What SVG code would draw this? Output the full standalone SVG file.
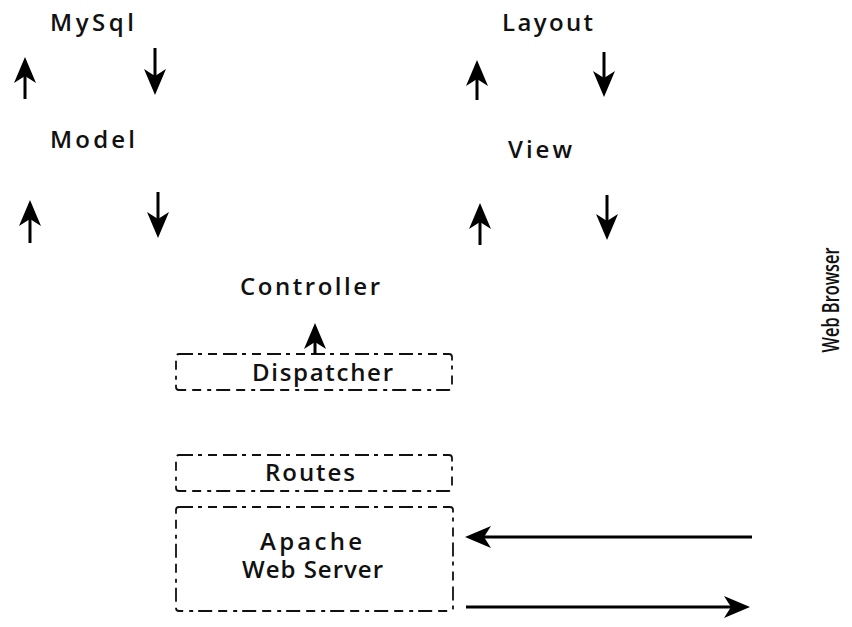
<svg xmlns="http://www.w3.org/2000/svg" width="852" height="627" viewBox="0 0 852 627">
<style>
  .lbl { font-family: "Open Sans", "Liberation Sans", sans-serif; font-size: 24px; font-weight: 600; fill: #111; }
  .box { fill: none; stroke: #111; stroke-width: 1.8; stroke-dasharray: 14 5 4 6 9 6; }
  .arr { fill: none; stroke: #000; stroke-width: 3; marker-end: url(#head); }
</style>
<defs>
  <marker id="head" markerUnits="userSpaceOnUse" markerWidth="28" markerHeight="26" viewBox="0 -13 28 26" refX="7" refY="0" orient="auto">
    <path d="M26,0 L0,-11 L7,0 L0,11 Z" fill="#000"/>
  </marker>
</defs>
<rect width="852" height="627" fill="#fff"/>

<g id="mysql"><text class="lbl" x="50" y="31" textLength="84" lengthAdjust="spacing">MySql</text></g>
<g id="layout"><text class="lbl" x="502" y="31" textLength="91" lengthAdjust="spacing">Layout</text></g>
<g id="model"><text class="lbl" x="50" y="148" textLength="85" lengthAdjust="spacing">Model</text></g>
<g id="view"><text class="lbl" x="508" y="158" textLength="64" lengthAdjust="spacing">View</text></g>
<g id="controller"><text class="lbl" x="240" y="295" textLength="140" lengthAdjust="spacing">Controller</text></g>
<g id="dispatcher">
  <rect class="box" x="176" y="354" width="276" height="36" rx="3"/>
  <text class="lbl" x="252" y="381" textLength="141" lengthAdjust="spacing">Dispatcher</text>
</g>
<g id="routes">
  <rect class="box" x="176" y="455" width="276" height="36" rx="3"/>
  <text class="lbl" x="265" y="481" textLength="90" lengthAdjust="spacing">Routes</text>
</g>
<g id="apache">
  <rect class="box" x="176" y="507" width="277" height="104" rx="3"/>
  <text class="lbl" x="260" y="550" textLength="102" lengthAdjust="spacing">Apache</text>
  <text class="lbl" x="242" y="578" textLength="141" lengthAdjust="spacing">Web Server</text>
</g>
<g id="browser"><text class="lbl" transform="translate(839,300) rotate(-90)" text-anchor="middle" font-size="22" font-weight="400" textLength="105" lengthAdjust="spacingAndGlyphs">Web Browser</text></g>

<g id="connectors">
  <line class="arr" x1="25" y1="99" x2="25" y2="76"/>
  <line class="arr" x1="155" y1="48" x2="155" y2="76"/>
  <line class="arr" x1="477" y1="100" x2="477" y2="79"/>
  <line class="arr" x1="604" y1="52" x2="604" y2="78"/>
  <line class="arr" x1="30" y1="243" x2="30" y2="219"/>
  <line class="arr" x1="158" y1="192" x2="158" y2="219"/>
  <line class="arr" x1="480" y1="245" x2="480" y2="222"/>
  <line class="arr" x1="607" y1="195" x2="607" y2="221"/>
  <line class="arr" x1="315" y1="354" x2="315" y2="342"/>
  <line class="arr" x1="752" y1="537" x2="484" y2="537"/>
  <line class="arr" x1="466" y1="607" x2="731" y2="607"/>
</g>
</svg>
